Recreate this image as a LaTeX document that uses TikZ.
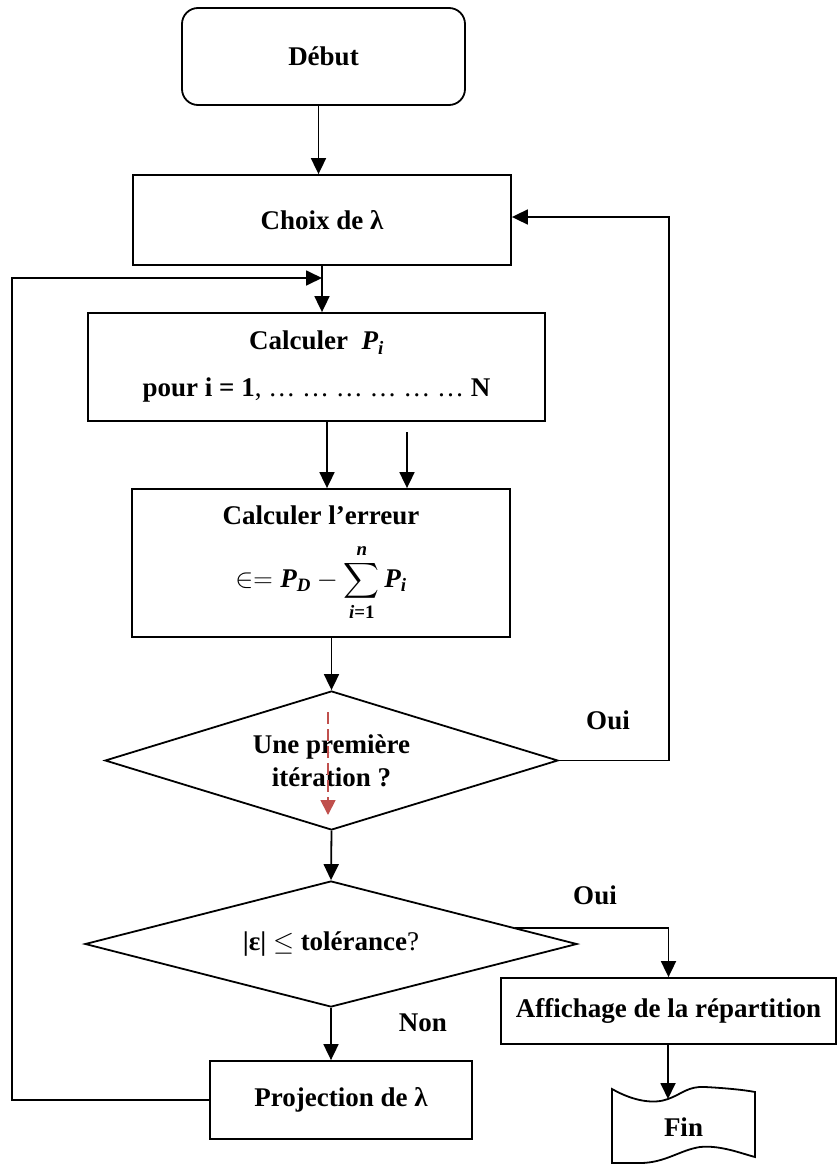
\RequirePackage{fix-cm}
\documentclass[tikz,border=0pt]{standalone}
\usepackage{fontspec}
\setmainfont{Liberation Serif}
\usepackage{amsmath}
\usetikzlibrary{shapes.geometric,arrows.meta,calc}

\definecolor{rouge}{HTML}{C0504D}

\begin{document}
\begin{tikzpicture}[x=1pt, y=-1pt,
  font=\fontsize{27}{33}\selectfont\bfseries,
  box/.style={draw, rectangle, line width=1.8pt, inner sep=0pt, align=center},
  term/.style={box, rounded corners=16pt},
  test/.style={draw, diamond, line width=1.8pt, inner sep=0pt, align=center},
  fleche/.style={line width=1.8pt, -{Triangle[length=16pt,width=15pt]}},
  pointille/.style={rouge, line width=1.8pt, dash pattern=on 12pt off 5pt, -{Triangle[length=15pt,width=15pt]}}]

\useasboundingbox (0,0) rectangle (837,1165);

\node[term, minimum width=283pt, minimum height=97pt] (debut) at (323.5,56.5) {Début};
\node[box, minimum width=378pt, minimum height=90pt] (choix) at (322,220) {Choix de λ};
\node[box, minimum width=457pt, minimum height=108pt] (calc) at (316.5,367)
  {Calculer\ \ $\textit{P}_{\textit{i}}$\\[14pt] pour i = 1{\mdseries, \dots\ \dots\ \dots\ \dots\ \dots\ \dots} N};
\node[box, minimum width=378pt, minimum height=148pt] (erreur) at (321,563)
  {Calculer l’erreur\\[19pt] $\displaystyle \in= \textit{P}_{\textit{D}} - \sum_{\textit{i}\textbf{=1}}^{\textit{n}} \textit{P}_{\textit{i}}$};
\node[test, minimum width=453pt, minimum height=139pt, aspect=3.26] (iter) at (331.5,760.5)
  {Une première\\itération ?};
\node[test, minimum width=492pt, minimum height=126pt, aspect=3.9] (tol) at (331,944)
  {|ε| $\leq$ tolérance{\mdseries ?}};
\node[box, minimum width=335pt, minimum height=66pt] (affich) at (668.5,1011) {Affichage de la répartition};
\node[box, minimum width=262pt, minimum height=78pt] (proj) at (341,1100) {Projection de λ};
\node[minimum width=143pt, minimum height=70pt] (fin) at (683.5,1127) {Fin};
\draw[line width=1.8pt] (612,1089) .. controls (635,1102) and (655,1104) .. (668,1099)
  .. controls (682,1094) and (688,1086) .. (705,1087)
  .. controls (725,1088) and (745,1090) .. (755,1092) -- (755,1157)
  .. controls (740,1153) and (720,1145) .. (700,1147)
  .. controls (680,1150) and (665,1163) .. (640,1163) -- (612,1163) -- cycle;

\node (oui1) at (608,720) {Oui};
\node (oui2) at (595,895) {Oui};
\node (non) at (423,1023) {Non};

\coordinate (r1) at (328,712);
\coordinate (r2) at (328,815);
\draw[pointille] (r1) -- (r2);

\coordinate (retour) at (12,278);
\coordinate (c2) at (407,432);
\coordinate (oui) at (669,217);
\coordinate (fintop) at (668,1099);

\draw[fleche] ([xshift=-5pt]debut.south) -- ([xshift=-5pt]debut.south |- choix.north);
\draw[fleche] (choix.south) -- (choix.south |- calc.north);
\draw[fleche] ([xshift=10.5pt]calc.south) -- ([xshift=10.5pt]calc.south |- erreur.north);
\draw[fleche] (c2) -- (c2 |- erreur.north);
\draw[fleche] (iter.north |- erreur.south) -- (iter.north);
\draw[fleche] (iter.east) -| (oui) -- (oui -| choix.east);
\draw[fleche] (iter.south) -- (tol.north);
\draw[fleche] ($(tol.north)!0.746!(tol.east)$) -| (affich.north);
\draw[fleche] (tol.south) -- (tol.south |- proj.north);
\draw[fleche] (affich.south -| fintop) -- (fintop);
\draw[fleche] (proj.west) -| (retour) -- (retour -| choix.south);

\end{tikzpicture}
\end{document}
